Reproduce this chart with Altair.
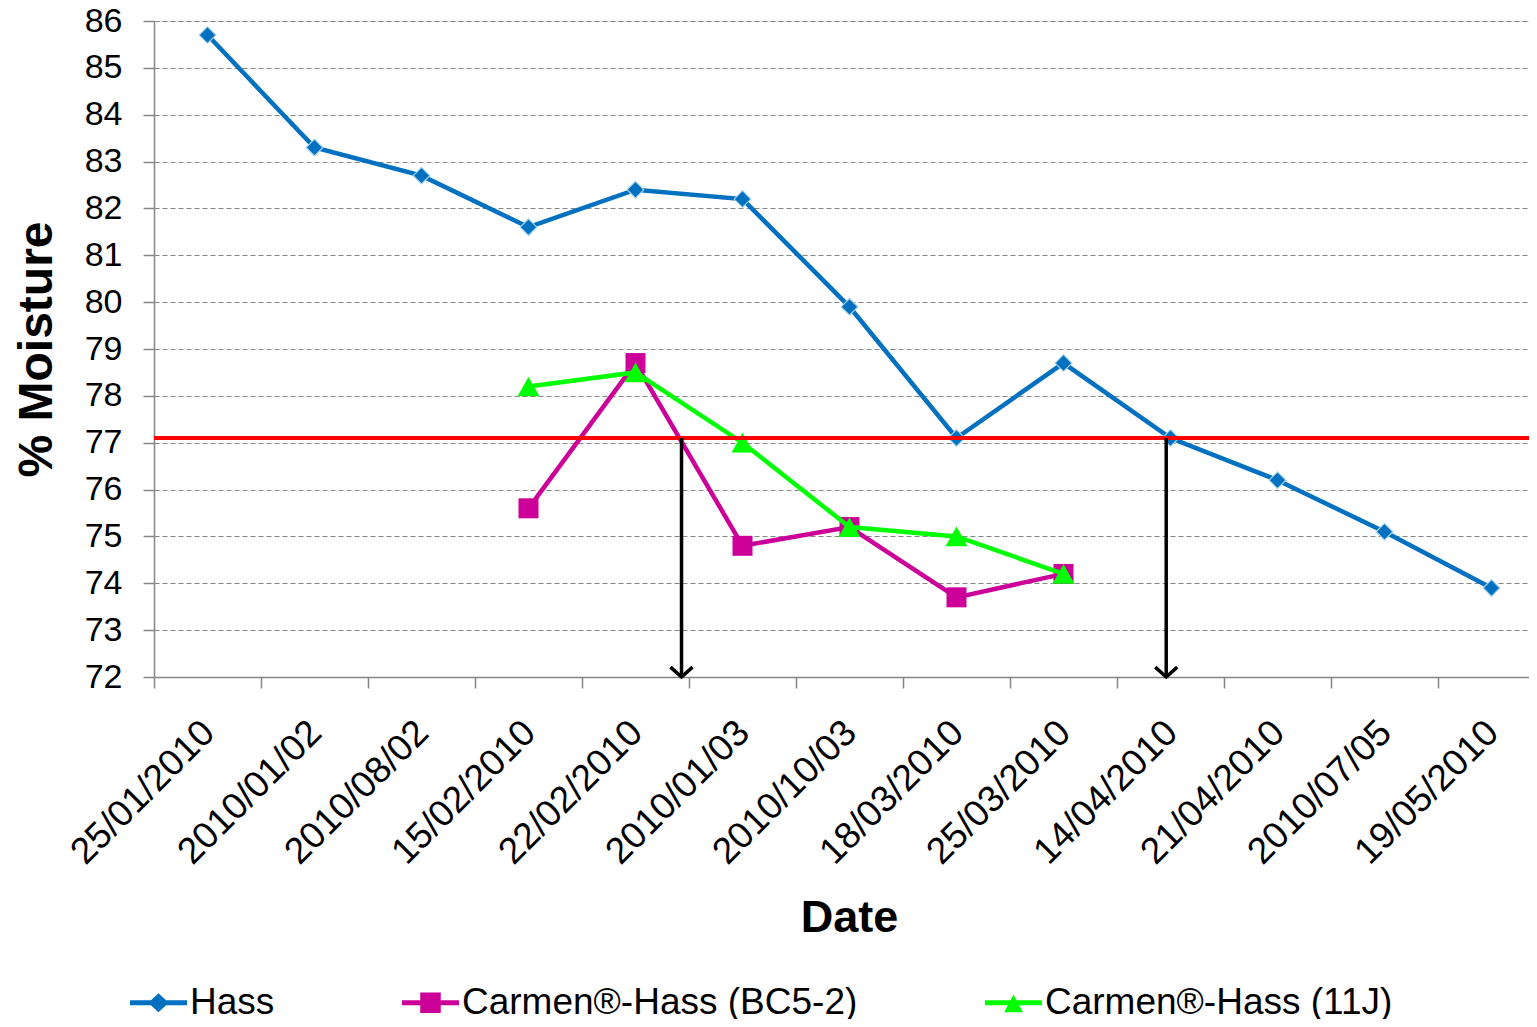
import json
import pandas as pd
import altair as alt

# ---------------- data ----------------
dates = ["25/01/2010", "2010/01/02", "2010/08/02", "15/02/2010", "22/02/2010",
         "2010/01/03", "2010/10/03", "18/03/2010", "25/03/2010", "14/04/2010",
         "21/04/2010", "2010/07/05", "19/05/2010"]
hass = [85.7, 83.3, 82.7, 81.6, 82.4, 82.2, 79.9, 77.1, 78.7, 77.1, 76.2, 75.1, 73.9]
bc5_2 = [None, None, None, 75.6, 78.7, 74.8, 75.2, 73.7, 74.2, None, None, None, None]
j11 = [None, None, None, 78.2, 78.5, 77.0, 75.2, 75.0, 74.2, None, None, None, None]
series_names = ["Hass", "Carmen®-Hass (BC5-2)", "Carmen®-Hass (11J)"]
series_values = [hass, bc5_2, j11]
threshold = [77.1]
arrow_x = [4.43, 8.96]
arrow_top = [77.1, 77.1]
arrow_bottom = [72.0, 72.0]
y_ticks = list(range(72, 87))

# ---------------- styles ----------------
series_colors = ["#0070C0", "#CC0099", "#00FF00"]
marker_shapes = ["diamond", "square", "M0,-0.9L1,0.9L-1,0.9Z"]
marker_sizes = [280, 400, 480]
marker_strokes = ["#A8D4EC", None, None]
legend_paths = [
    "M-1,-0.09L1,-0.09L1,0.09L-1,0.09Z M0,-0.33L0.36,0L0,0.33L-0.36,0Z",
    "M-1,-0.09L1,-0.09L1,0.09L-1,0.09Z M-0.36,-0.36L0.36,-0.36L0.36,0.36L-0.36,0.36Z",
    "M-1,-0.09L1,-0.09L1,0.09L-1,0.09Z M0,-0.29L0.33,0.33L-0.33,0.33Z",
]
FONT = "Liberation Sans"
GRAY = "#868686"

rows = []
for name, vals in zip(series_names, series_values):
    for i, v in enumerate(vals):
        if v is not None:
            rows.append({"series": name, "idx": i, "value": v})
df = pd.DataFrame(rows)

n = len(dates)
step = 107.0
plot_w = 1375
plot_h = 656
x_max = -0.5 + plot_w / step

X = alt.X(
    "idx:Q",
    scale=alt.Scale(domain=[-0.5, x_max], nice=False, zero=False),
    axis=alt.Axis(
        values=list(range(n)),
        labelExpr=json.dumps(dates) + "[datum.value]",
        labelAngle=-45, labelAlign="right", labelBaseline="top",
        labelFont=FONT, labelFontSize=37, labelColor="black", labelLimit=0,
        labelPadding=26, labelOffset=step / 2 - 12,
        labelOverlap=False, labelBound=False, labelFlush=False,
        tickOffset=-step / 2, tickSize=11, tickColor=GRAY, tickWidth=1.5,
        domainColor=GRAY, domainWidth=1.5, grid=False,
        title="Date", titleFont=FONT, titleFontSize=45, titleFontWeight="bold",
        titleColor="black", titleX=695, titleY=240, titleAlign="center",
        titleBaseline="middle",
    ),
)
Y = alt.Y(
    "value:Q",
    scale=alt.Scale(domain=[72, 86], nice=False, zero=False),
    axis=alt.Axis(
        values=y_ticks, format="d",
        labelFont=FONT, labelFontSize=34, labelColor="black", labelPadding=21,
        tickSize=11, tickColor=GRAY, tickWidth=1.5,
        domainColor=GRAY, domainWidth=1.5,
        grid=True, gridColor=GRAY, gridDash=[5, 3], gridWidth=1.2,
        title="% Moisture", titleFont=FONT, titleFontSize=48, titleFontWeight="bold",
        titleColor="black", titleX=-117, titleY=plot_h / 2, titleAlign="center",
        titleBaseline="middle",
    ),
)

layers = []
for i, name in enumerate(series_names):
    base = alt.Chart(df).transform_filter(alt.datum.series == name)
    layers.append(base.mark_line(color=series_colors[i], strokeWidth=4.5).encode(x=X, y=Y))
    mk = dict(shape=marker_shapes[i], filled=True, size=marker_sizes[i],
              fill=series_colors[i], opacity=1)
    if marker_strokes[i]:
        mk.update(stroke=marker_strokes[i], strokeWidth=1.2)
    else:
        mk.update(strokeWidth=0)
    layers.append(base.mark_point(**mk).encode(x=X, y=Y))

legend = alt.Legend(
    title=None, orient="none", direction="horizontal", columns=3,
    legendX=-24, legendY=953,
    labelFont=FONT, labelFontSize=37, labelColor="black", labelLimit=0,
    labelOffset=3, columnPadding=127, symbolSize=3249, symbolStrokeWidth=0,
    symbolOpacity=1, padding=0,
)
legend_layer = alt.Chart(df).mark_point(filled=True, opacity=0).encode(
    x=X, y=Y,
    color=alt.Color("series:N", scale=alt.Scale(domain=series_names, range=series_colors), legend=legend),
    shape=alt.Shape("series:N", scale=alt.Scale(domain=series_names, range=legend_paths), legend=legend),
)
layers.append(legend_layer)

thr = alt.Chart(pd.DataFrame({"value": threshold})).mark_rule(
    color="#FF0000", strokeWidth=4).encode(y=Y)
layers.append(thr)

arrows = pd.DataFrame({"idx": arrow_x, "value": arrow_top, "value2": arrow_bottom})
layers.append(alt.Chart(arrows).mark_rule(color="black", strokeWidth=3.5).encode(
    x=X, y=Y, y2="value2:Q"))
heads = pd.DataFrame({"idx": arrow_x, "value": arrow_bottom})
layers.append(alt.Chart(heads).mark_point(
    shape="M-1,-0.9L0,0L1,-0.9", filled=False, stroke="black", strokeWidth=3.5,
    size=484, opacity=1).encode(x=X, y=Y))

chart = alt.layer(*layers).properties(
    width=plot_w, height=plot_h,
    autosize=alt.AutoSizeParams(type="none"),
    padding={"left": 146, "top": 13, "right": 0, "bottom": 342},
).configure_view(stroke=None).configure(font=FONT)

chart.save("out.html", embed_options={"renderer": "svg", "actions": False})
